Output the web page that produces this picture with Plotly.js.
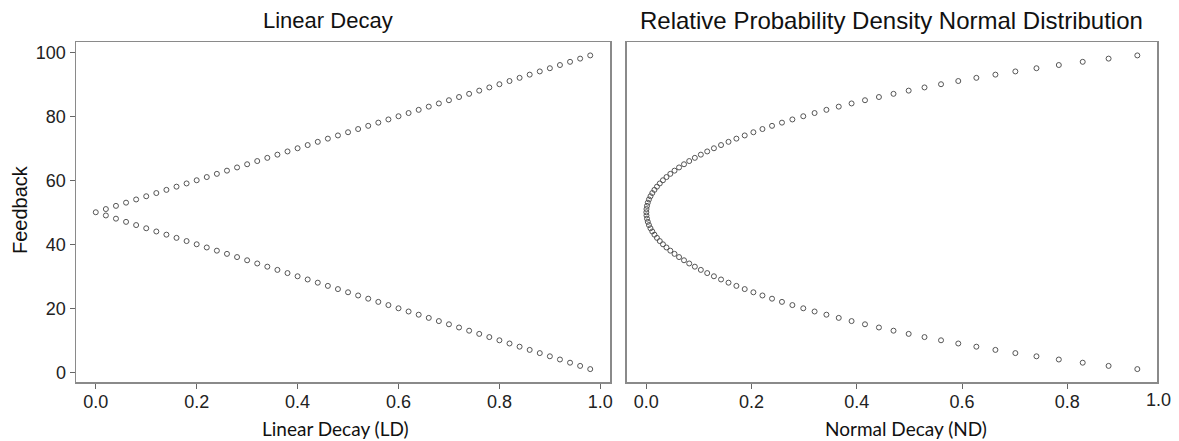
<!DOCTYPE html>
<html>
<head>
<meta charset="utf-8">
<script src="https://cdn.plot.ly/plotly-3.0.1.min.js"></script>
<style>html,body{margin:0;padding:0;background:#fff}#chart{width:1179px;height:441px}</style>
</head>
<body>
<div id="chart"></div>
<script>
// Feedback values (y) shared by both panels
const feedback = [1,2,3,4,5,6,7,8,9,10,11,12,13,14,15,16,17,18,19,20,21,22,23,24,25,26,27,28,29,30,31,32,33,34,35,36,37,38,39,40,41,42,43,44,45,46,47,48,49,50,51,52,53,54,55,56,57,58,59,60,61,62,63,64,65,66,67,68,69,70,71,72,73,74,75,76,77,78,79,80,81,82,83,84,85,86,87,88,89,90,91,92,93,94,95,96,97,98,99];
// Linear decay (x, left panel)
const linearDecay = [0.98,0.96,0.94,0.92,0.90,0.88,0.86,0.84,0.82,0.80,0.78,0.76,0.74,0.72,0.70,0.68,0.66,0.64,0.62,0.60,0.58,0.56,0.54,0.52,0.50,0.48,0.46,0.44,0.42,0.40,0.38,0.36,0.34,0.32,0.30,0.28,0.26,0.24,0.22,0.20,0.18,0.16,0.14,0.12,0.10,0.08,0.06,0.04,0.02,0,0.02,0.04,0.06,0.08,0.10,0.12,0.14,0.16,0.18,0.20,0.22,0.24,0.26,0.28,0.30,0.32,0.34,0.36,0.38,0.40,0.42,0.44,0.46,0.48,0.50,0.52,0.54,0.56,0.58,0.60,0.62,0.64,0.66,0.68,0.70,0.72,0.74,0.76,0.78,0.80,0.82,0.84,0.86,0.88,0.90,0.92,0.94,0.96,0.98];
// Normal decay (x, right panel)
const normalDecay = [0.9332,0.8786,0.8294,0.7840,0.7415,0.7014,0.6635,0.6273,0.5929,0.5601,0.5287,0.4986,0.4698,0.4421,0.4156,0.3901,0.3657,0.3423,0.3198,0.2983,0.2776,0.2578,0.2389,0.2207,0.2035,0.1870,0.1712,0.1562,0.1420,0.1285,0.1157,0.1036,0.0922,0.0815,0.0716,0.0622,0.0536,0.0456,0.0383,0.0316,0.0256,0.0202,0.0154,0.0113,0.0079,0.0050,0.0028,0.0013,0.0003,0,0.0003,0.0013,0.0028,0.0050,0.0079,0.0113,0.0154,0.0202,0.0256,0.0316,0.0383,0.0456,0.0536,0.0622,0.0716,0.0815,0.0922,0.1036,0.1157,0.1285,0.1420,0.1562,0.1712,0.1870,0.2035,0.2207,0.2389,0.2578,0.2776,0.2983,0.3198,0.3423,0.3657,0.3901,0.4156,0.4421,0.4698,0.4986,0.5287,0.5601,0.5929,0.6273,0.6635,0.7014,0.7415,0.7840,0.8294,0.8786,0.9332];

const yTicks = [0,20,40,60,80,100];
const xTicksLeft = [0,0.2,0.4,0.6,0.8,1.0];
const xTicksRight = [0,0.2,0.4,0.6,0.8];
const panelTitles = ["Linear Decay","Relative Probability Density Normal Distribution"];
const xTitles = ["Linear Decay (LD)","Normal Decay (ND)"];
const yTitle = "Feedback";

const W = 1179, H = 441;
const px = x => x / W;
const py = y => 1 - y / H;

const ARIAL = 'Arial, "Liberation Sans", Helvetica, sans-serif';
const marker = {symbol:'circle-open', size:5, color:'#555', line:{width:1, color:'#555'}};

const traces = [
  {x: linearDecay, y: feedback, type:'scatter', mode:'markers', marker, xaxis:'x', yaxis:'y', hoverinfo:'x+y'},
  {x: normalDecay, y: feedback, type:'scatter', mode:'markers', marker, xaxis:'x2', yaxis:'y2', hoverinfo:'x+y'}
];

function axis(extra) {
  return Object.assign({
    showline:true, mirror:true, linecolor:'#8a8a8a', linewidth:1.5,
    showgrid:false, zeroline:false, ticks:'outside', ticklen:5, tickwidth:1, tickcolor:'#666',
    tickfont:{family:ARIAL, size:18, color:'#222'}
  }, extra);
}

const layout = {
  width:W, height:H, margin:{l:0,r:0,t:0,b:0},
  font:{family:ARIAL, size:18, color:'#222'},
  paper_bgcolor:'#fff', plot_bgcolor:'#fff', showlegend:false,
  xaxis: axis({domain:[px(76), px(610)], range:[-0.0392, 1.0192], tickvals:xTicksLeft, tickformat:'.1f', anchor:'y', ticklabelstandoff:-2}),
  yaxis: axis({domain:[py(382), py(42.3)], range:[-3.03, 103.1], tickvals:yTicks, anchor:'x'}),
  xaxis2: axis({domain:[px(626.7), px(1157)], range:[-0.0373, 0.9706], tickvals:xTicksRight, tickformat:'.1f', anchor:'y2', ticklabelstandoff:-2}),
  yaxis2: axis({domain:[py(382), py(42.3)], range:[-3.03, 103.1], ticks:'', showticklabels:false, anchor:'x2'}),
  annotations: [
    {text:panelTitles[0], xref:'paper', yref:'paper', x:px(328), y:py(20), showarrow:false, xanchor:'center', yanchor:'middle', font:{family:ARIAL, size:22, color:'#111'}},
    {text:panelTitles[1], xref:'paper', yref:'paper', x:px(891), y:py(20), showarrow:false, xanchor:'center', yanchor:'middle', font:{family:ARIAL, size:24, color:'#111'}},
    {text:xTitles[0], xref:'paper', yref:'paper', x:px(335), y:py(428), showarrow:false, xanchor:'center', yanchor:'middle', font:{family:'Lato, sans-serif', size:19, color:'#111'}},
    {text:xTitles[1], xref:'paper', yref:'paper', x:px(906), y:py(428), showarrow:false, xanchor:'center', yanchor:'middle', font:{family:'Lato, sans-serif', size:19, color:'#111'}},
    {text:yTitle, xref:'paper', yref:'paper', x:px(20), y:py(210), showarrow:false, textangle:-90, xanchor:'center', yanchor:'middle', font:{family:ARIAL, size:20, color:'#111'}},
    {text:'1.0', xref:'paper', yref:'paper', x:px(1158), y:py(400), showarrow:false, xanchor:'center', yanchor:'middle', font:{family:ARIAL, size:18, color:'#222'}}
  ]
};

Plotly.newPlot('chart', traces, layout, {displayModeBar:false, staticPlot:true});
</script>
</body>
</html>
